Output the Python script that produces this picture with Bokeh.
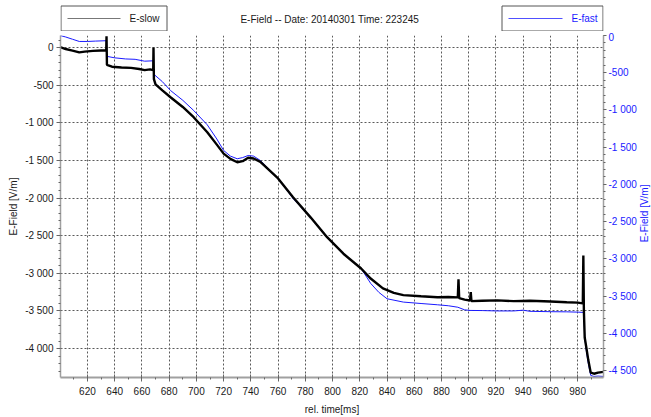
from bokeh.plotting import figure
from bokeh.layouts import column
from bokeh.models import Range1d, LinearAxis, FixedTicker, CustomJSTickFormatter, Label
from bokeh.core.properties import value
from bokeh.embed import file_html
from bokeh.resources import INLINE
import math

# E-slow record (left axis, V/m)
slow_t = [600, 604, 609, 614, 618, 624, 630, 633.8, 634.0, 634.3, 638, 645, 652, 658,
          662, 666, 668.3, 668.5, 668.8, 670, 675, 681, 690, 698, 708, 715, 720, 725,
          730, 734, 738, 742, 747, 760, 771, 784, 796, 808, 821, 828, 837, 845, 852,
          865, 877, 885, 892, 892.5, 893, 897, 901, 901.5, 902, 910, 921, 933, 945,
          960, 972, 980, 983.8, 984.2, 984.6, 985.2, 986.5, 987.8, 989.6, 992, 995, 999]
slow_v = [5, -20, -40, -65, -55, -45, -40, -40, 150, -230, -255, -265, -270, -285,
          -300, -290, -300, 0, -420, -490, -570, -660, -790, -926, -1125, -1290, -1410, -1480,
          -1524, -1510, -1465, -1475, -1520, -1740, -1990, -2260, -2520, -2740, -2937, -3070, -3200, -3260, -3290,
          -3305, -3318, -3315, -3320, -3080, -3330, -3350, -3362, -3250, -3370, -3365, -3360, -3370, -3365,
          -3375, -3385, -3390, -3400, -2764, -3500, -3854, -4000, -4150, -4320, -4335, -4320, -4310]

# E-fast record (right axis, V/m)
fast_t = [600, 604, 609, 614, 620, 626, 633.8, 634.2, 640, 648, 655, 662, 668.3, 668.7,
          675, 681, 690, 698, 708, 715, 720, 725, 730, 734, 738, 742, 747, 760, 771,
          784, 796, 808, 821, 828, 834, 840, 852, 865, 877, 885, 892, 897, 901, 910,
          921, 933, 940, 945, 960, 972, 980, 984.5, 985.2, 986.5, 987.8, 989.6, 992, 995, 999]
fast_v = [0, -20, -50, -80, -80, -75, -70, -280, -300, -315, -320, -345, -340, -520,
          -620, -739, -870, -1007, -1200, -1390, -1544, -1620, -1656, -1640, -1612, -1620, -1679, -1919, -2189,
          -2450, -2708, -2930, -3129, -3330, -3450, -3536, -3581, -3600, -3617, -3630, -3650, -3685, -3693, -3695,
          -3700, -3700, -3690, -3705, -3710, -3712, -3716, -3720, -4051, -4250, -4400, -4566, -4580, -4575, -4580]

x_ticks = list(range(620, 981, 20))
x_minor = list(range(610, 1000, 10))
left_ticks = list(range(-4000, 1, 500))
left_minor = list(range(-4300, 101, 100))
right_ticks = list(range(-4500, 1, 500))
right_minor = list(range(-4500, 1, 100))

title_text = "E-Field  --  Date: 20140301 Time: 223245"
x_label = "rel. time[ms]"
y_label = "E-Field [V/m]"
series_names = ["E-slow", "E-fast"]

FONT = "Liberation Sans"
TXT = "#1a1a1a"
BLUE = "#1a1aff"
FS = "10px"
HDR_H = 31

# ---- header strip: title and the two legend boxes ----
# the header frame lines up with the chart frame (page pixels 60..603),
# so its ranges are set up to work in page pixels, y counted downward
hdr = figure(width=651, height=HDR_H, x_range=Range1d(60, 603), y_range=Range1d(HDR_H, 0),
             x_axis_type=None, y_axis_type=None, output_backend="svg",
             toolbar_location=None, min_border=0, border_fill_color="white",
             background_fill_color="white")
hdr.outline_line_color = None
hdr.xgrid.visible = False
hdr.ygrid.visible = False

box_left = [60.5, 501.5]
box_right = [166.5, 602.5]
key_x0 = [67, 508]
key_x1 = [120, 562]
key_colors = ["#777777", "#5050ff"]
name_x = [129, 571]
name_colors = [TXT, BLUE]

hdr.quad(left=box_left, right=box_right, top=[5.5, 5.5], bottom=[30.5, 30.5],
         fill_color="white", line_color="#555555", line_width=1)
hdr.segment(x0=key_x0, y0=[18, 18], x1=key_x1, y1=[18, 18], line_color=key_colors, line_width=1)
hdr.text(x=name_x, y=[18, 18], text=series_names, text_color=name_colors,
         text_font=value(FONT), text_font_size=FS, text_align="left", text_baseline="middle")
hdr.text(x=[332], y=[19], text=[title_text], text_color=TXT,
         text_font=value(FONT), text_font_size=FS, text_align="center", text_baseline="middle")

# ---- main chart ----
p = figure(width=651, height=417 - HDR_H,
           min_border_left=60, min_border_right=48, min_border_top=4, min_border_bottom=40,
           x_range=Range1d(600.2, 999), y_range=Range1d(-4385, 160),
           output_backend="svg", toolbar_location=None,
           background_fill_color="white", border_fill_color="white")
p.outline_line_color = None
p.extra_y_ranges = {"fast": Range1d(-4594, 0)}

fmt = CustomJSTickFormatter(code="""
    return tick.toFixed(0).replace(/\\B(?=(\\d{3})+(?!\\d))/g, " ");
""")


def style_axis(ax, label_color, tick_out, standoff, label_standoff):
    ax.axis_line_color = "#a0a0a0"
    ax.axis_line_width = 1.5
    ax.major_tick_line_color = "#666666"
    ax.major_tick_out = tick_out
    ax.major_tick_in = 0
    ax.minor_tick_line_color = "#666666"
    ax.minor_tick_out = 2
    ax.minor_tick_in = 0
    ax.major_label_standoff = standoff
    ax.major_label_text_font = FONT
    ax.major_label_text_font_size = FS
    ax.major_label_text_color = label_color
    ax.axis_label_standoff = label_standoff
    ax.axis_label_text_font = FONT
    ax.axis_label_text_font_size = FS
    ax.axis_label_text_font_style = "normal"
    ax.axis_label_text_color = label_color


# bottom axis
xa = p.xaxis[0]
xa.ticker = FixedTicker(ticks=x_ticks, minor_ticks=x_minor)
style_axis(xa, TXT, 4, 5, 6)
xa.axis_line_width = 2
xa.major_tick_in = 3
xa.axis_label = x_label

# left axis
ya = p.yaxis[0]
ya.ticker = FixedTicker(ticks=left_ticks, minor_ticks=left_minor)
ya.formatter = fmt
style_axis(ya, TXT, 4, 3, 3)
ya.axis_label = y_label

# right axis for E-fast
ra = LinearAxis(y_range_name="fast",
                ticker=FixedTicker(ticks=right_ticks, minor_ticks=right_minor),
                formatter=fmt)
style_axis(ra, BLUE, 3, 2, 0)
p.add_layout(ra, "right")

# right-hand axis title, reading bottom to top like the left one
p.add_layout(Label(x=5, y=-2390, x_units="screen", y_units="data", y_range_name="fast",
                   text=y_label, angle=math.pi / 2, text_align="center",
                   text_baseline="middle", text_font=FONT, text_font_size=FS,
                   text_color=BLUE), "right")

# dashed grid
for g in (p.xgrid[0], p.ygrid[0]):
    g.grid_line_color = "#5a5a5a"
    g.grid_line_dash = "2 2"
    g.grid_line_width = 1
p.xgrid[0].ticker = FixedTicker(ticks=x_ticks)
p.ygrid[0].ticker = FixedTicker(ticks=left_ticks)

# curves
p.line(fast_t, fast_v, y_range_name="fast", line_color=BLUE, line_width=1)
p.line(slow_t, slow_v, line_color="black", line_width=2.4)

layout = column(hdr, p, spacing=0)
open("out.html", "w").write(file_html(layout, INLINE))
